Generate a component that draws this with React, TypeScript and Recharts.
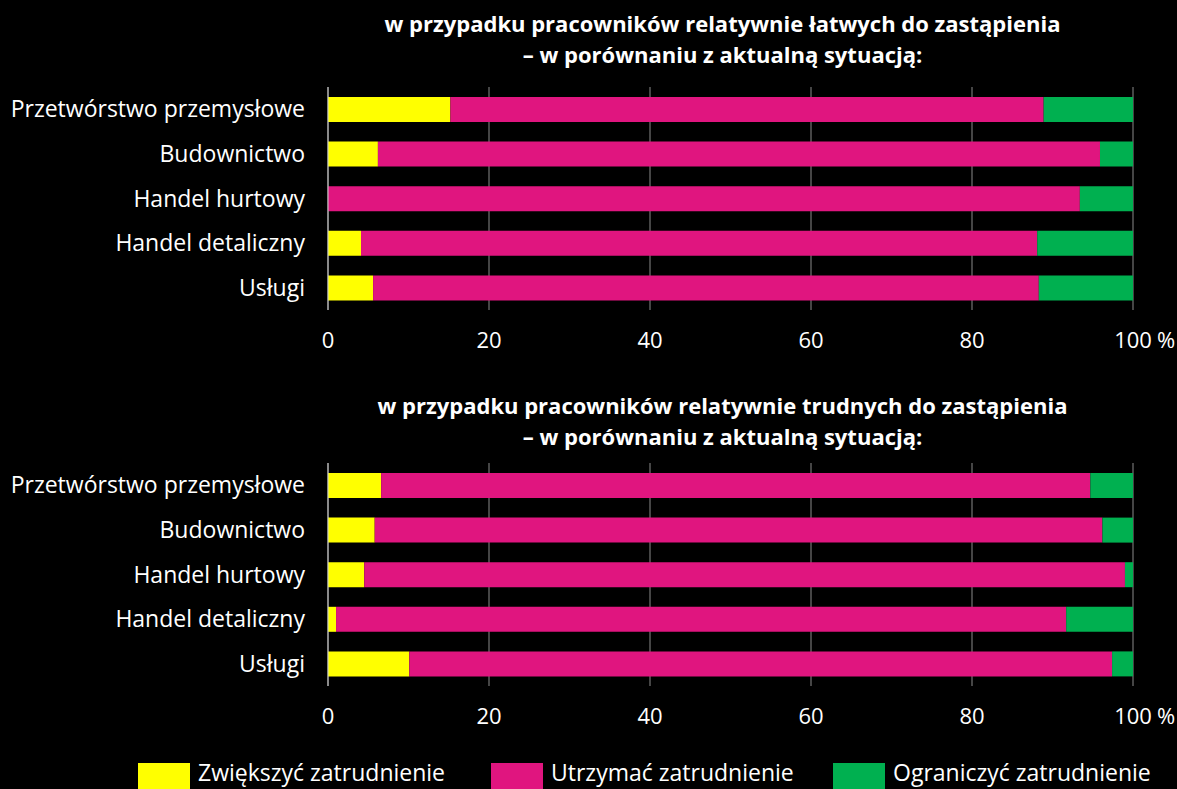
import React from 'react';
import { BarChart, Bar, XAxis, YAxis, CartesianGrid } from 'recharts';

const categories = [
  'Przetwórstwo przemysłowe',
  'Budownictwo',
  'Handel hurtowy',
  'Handel detaliczny',
  'Usługi'
];

// łatwi do zastąpienia
const easyIncrease = [15.2, 6.2, 0, 4.1, 5.6];
const easyMaintain = [73.7, 89.7, 93.4, 84.0, 82.7];
const easyReduce = [11.1, 4.1, 6.6, 11.9, 11.7];

// trudni do zastąpienia
const hardIncrease = [6.6, 5.8, 4.5, 1.0, 10.1];
const hardMaintain = [88.1, 90.4, 94.5, 90.7, 87.3];
const hardReduce = [5.3, 3.8, 1.0, 8.3, 2.6];

const xTicks = [0, 20, 40, 60, 80, 100];

const seriesNames = ['Zwiększyć zatrudnienie', 'Utrzymać zatrudnienie', 'Ograniczyć zatrudnienie'];
const colors = ['#FFFF00', '#E0157F', '#00B050'];
const legendLeft = [138, 491, 833];

const buildRows = (inc: number[], mnt: number[], red: number[]) =>
  categories.map((name, i) => ({ name, inc: inc[i], mnt: mnt[i], red: red[i] }));

const FONT = '"Open Sans", "Noto Sans", sans-serif';

const XTick = ({ x, y, payload }: any) => (
  <g>
    <text x={x} y={y + 30} textAnchor="middle" fill="#fff" fontSize={22} fontFamily={FONT}>
      {payload.value}
    </text>
    {payload.value === 100 && (
      <text x={x + 24} y={y + 30} textAnchor="start" fill="#fff" fontSize={22} fontFamily={FONT}>
        %
      </text>
    )}
  </g>
);

const StackChart = ({ data, top }: { data: any[]; top: number }) => (
  <div style={{ position: 'absolute', left: 0, top }}>
    <BarChart
      width={1177}
      height={370}
      data={data}
      layout="vertical"
      margin={{ top: 87, right: 44, left: 0, bottom: 10 }}
      barSize={25}
    >
      <CartesianGrid horizontal={false} vertical stroke="#8a8a8a" />
      <XAxis
        type="number"
        domain={[0, 100]}
        ticks={xTicks}
        axisLine={false}
        tickLine={false}
        height={50}
        tick={<XTick />}
        interval={0}
      />
      <YAxis
        type="category"
        dataKey="name"
        width={328}
        axisLine={{ stroke: '#d0d0d0' }}
        tickLine={false}
        tickMargin={17}
        tick={{ fill: '#fff', fontSize: 23, fontFamily: FONT }}
        interval={0}
      />
      <Bar dataKey="inc" stackId="a" fill={colors[0]} isAnimationActive={false} />
      <Bar dataKey="mnt" stackId="a" fill={colors[1]} isAnimationActive={false} />
      <Bar dataKey="red" stackId="a" fill={colors[2]} isAnimationActive={false} />
    </BarChart>
  </div>
);

const titleStyle: React.CSSProperties = {
  position: 'absolute',
  left: 0,
  width: 1445,
  textAlign: 'center',
  color: '#fff',
  fontFamily: FONT,
  fontWeight: 700,
  fontSize: 22,
  lineHeight: '31px'
};

export default function App() {
  const easyRows = buildRows(easyIncrease, easyMaintain, easyReduce);
  const hardRows = buildRows(hardIncrease, hardMaintain, hardReduce);
  return (
    <div
      style={{
        position: 'absolute',
        left: 0,
        top: 0,
        width: 1177,
        height: 789,
        background: '#000',
        overflow: 'hidden'
      }}
    >
      <StackChart data={easyRows} top={0} />
      <StackChart data={hardRows} top={376} />
      <div style={{ ...titleStyle, top: 8 }}>
        w przypadku pracowników relatywnie łatwych do zastąpienia
        <br />– w porównaniu z aktualną sytuacją:
      </div>
      <div style={{ ...titleStyle, top: 390 }}>
        w przypadku pracowników relatywnie trudnych do zastąpienia
        <br />– w porównaniu z aktualną sytuacją:
      </div>
      {seriesNames.map((n, i) => (
        <React.Fragment key={n}>
          <div
            style={{
              position: 'absolute',
              left: legendLeft[i],
              top: 763,
              width: 52,
              height: 26,
              background: colors[i]
            }}
          />
          <div
            style={{
              position: 'absolute',
              left: legendLeft[i] + 60,
              top: 757,
              color: '#fff',
              fontFamily: FONT,
              fontSize: 23,
              lineHeight: '31px',
              whiteSpace: 'nowrap'
            }}
          >
            {n}
          </div>
        </React.Fragment>
      ))}
    </div>
  );
}
